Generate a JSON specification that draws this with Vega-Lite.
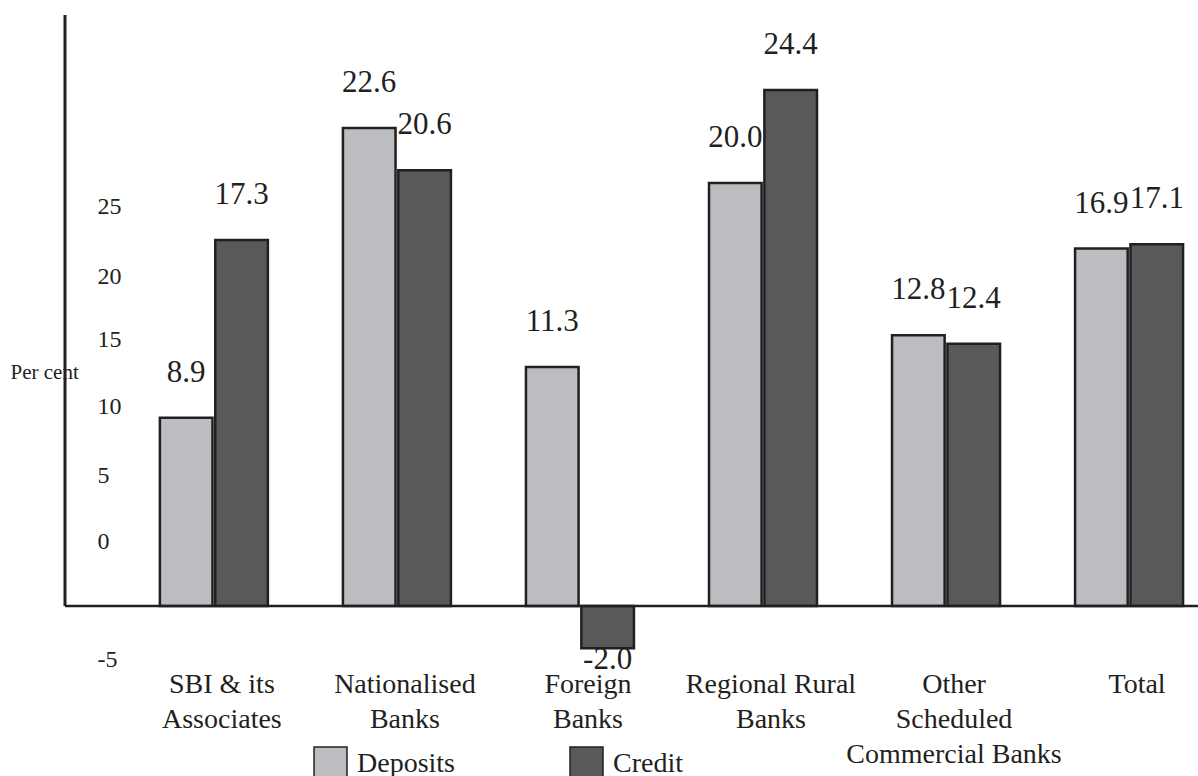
{
  "$schema": "https://vega.github.io/schema/vega-lite/v6.json",
  "width": 1133,
  "height": 646,
  "autosize": {"type": "none"},
  "padding": {"left": 65, "top": 15, "right": 0, "bottom": 115},
  "background": "white",
  "config": {
    "view": {"stroke": null},
    "font": "Liberation Serif",
    "text": {"font": "Liberation Serif"},
    "axis": {"labelFont": "Liberation Serif", "titleFont": "Liberation Serif"},
    "legend": {"labelFont": "Liberation Serif", "titleFont": "Liberation Serif"},
    "locale": {"number": {"decimal": ".", "thousands": ",", "grouping": [3], "currency": ["$", ""], "minus": "-"}}
  },
  "data": {
    "values": [
      {"category": "SBI & its\nAssociates", "series": "Deposits", "value": 8.9},
      {"category": "SBI & its\nAssociates", "series": "Credit", "value": 17.3},
      {"category": "Nationalised\nBanks", "series": "Deposits", "value": 22.6},
      {"category": "Nationalised\nBanks", "series": "Credit", "value": 20.6},
      {"category": "Foreign\nBanks", "series": "Deposits", "value": 11.3},
      {"category": "Foreign\nBanks", "series": "Credit", "value": -2.0},
      {"category": "Regional Rural\nBanks", "series": "Deposits", "value": 20.0},
      {"category": "Regional Rural\nBanks", "series": "Credit", "value": 24.4},
      {"category": "Other\nScheduled\nCommercial Banks", "series": "Deposits", "value": 12.8},
      {"category": "Other\nScheduled\nCommercial Banks", "series": "Credit", "value": 12.4},
      {"category": "Total", "series": "Deposits", "value": 16.9},
      {"category": "Total", "series": "Credit", "value": 17.1}
    ]
  },
  "layer": [
    {
      "layer": [
        {
          "mark": {"type": "bar", "stroke": "#231f20", "strokeWidth": 2.5},
          "encoding": {
            "x": {
              "field": "category", "type": "nominal", "sort": null,
              "scale": {"paddingInner": 0.41, "paddingOuter": 0.3, "align": 0.864},
              "axis": {
                "title": null, "domain": false, "ticks": false,
                "labelAngle": 0, "labelFont": "Liberation Serif", "labelFontSize": 28, "labelLineHeight": 35,
                "labelColor": "#231f20", "labelBaseline": "alphabetic",
                "labelPadding": 31, "labelOffset": 8, "labelLimit": 400,
                "labelExpr": "split(datum.label, '\\n')"
              }
            },
            "xOffset": {"field": "series", "type": "nominal", "sort": ["Deposits", "Credit"], "scale": {"paddingInner": 0.05}},
            "y": {
              "field": "value", "type": "quantitative",
              "scale": {"domain": [-2.6, 27.94], "nice": false, "zero": false},
              "axis": {
                "title": "Per cent", "titleAngle": 0, "titleX": -55, "titleY": 357,
                "titleAlign": "left", "titleBaseline": "middle", "titleFontSize": 21,
                "titleFont": "Liberation Serif", "titleFontWeight": "normal", "titleColor": "#231f20",
                "domain": false, "ticks": false, "grid": false,
                "values": [-2.55, 3.07, 6.19, 9.41, 12.58, 15.56, 18.87],
                "labelExpr": "datum.value > 17 ? '25' : datum.value > 14 ? '20' : datum.value > 11 ? '15' : datum.value > 8 ? '10' : datum.value > 5 ? '5' : datum.value > 0 ? '0' : '-5'",
                "labelAlign": "left", "labelBaseline": "middle", "labelPadding": -32,
                "labelFont": "Liberation Serif", "labelFontSize": 24, "labelColor": "#231f20",
                "labelFlush": false, "labelOverlap": false
              }
            },
            "color": {
              "field": "series", "type": "nominal",
              "scale": {"domain": ["Deposits", "Credit"], "range": ["#bcbdc0", "#58595b"]},
              "legend": {
                "title": null, "orient": "none", "direction": "horizontal",
                "legendX": 248, "legendY": 731, "padding": 0,
                "symbolType": "square", "symbolSize": 1089,
                "symbolStrokeColor": "#231f20", "symbolStrokeWidth": 1.5,
                "labelFont": "Liberation Serif", "labelFontSize": 28, "labelColor": "#231f20", "labelOffset": 9,
                "columnPadding": 112, "labelLimit": 300
              }
            }
          }
        },
        {
          "transform": [{"filter": "datum.value >= 0"}],
          "mark": {"type": "text", "font": "Liberation Serif", "baseline": "middle", "dy": -45, "fontSize": 31, "color": "#231f20"},
          "encoding": {
            "x": {"field": "category", "type": "nominal", "sort": null},
            "xOffset": {"field": "series", "type": "nominal", "sort": ["Deposits", "Credit"]},
            "y": {"field": "value", "type": "quantitative"},
            "text": {"field": "value", "type": "quantitative", "format": ".1f"}
          }
        },
        {
          "transform": [{"filter": "datum.value < 0"}],
          "mark": {"type": "text", "font": "Liberation Serif", "baseline": "alphabetic", "dy": 21, "fontSize": 31, "color": "#231f20"},
          "encoding": {
            "x": {"field": "category", "type": "nominal", "sort": null},
            "xOffset": {"field": "series", "type": "nominal", "sort": ["Deposits", "Credit"]},
            "y": {"field": "value", "type": "quantitative"},
            "text": {"field": "value", "type": "quantitative", "format": ".1f"}
          }
        },
        {
          "data": {"values": [{}]},
          "mark": {"type": "rule", "stroke": "#231f20", "strokeWidth": 2.5},
          "encoding": {
            "y": {"datum": 0, "type": "quantitative"}
          }
        }
      ]
    },
    {
      "data": {"values": [{}]},
      "mark": {"type": "rule", "stroke": "#231f20", "strokeWidth": 3},
      "encoding": {
        "x": {"datum": 0, "type": "quantitative", "scale": {"domain": [0, 1]}, "axis": null},
        "y": {"datum": 0, "type": "quantitative"},
        "y2": {"datum": 27.94}
      }
    }
  ],
  "resolve": {"scale": {"x": "independent"}}
}
